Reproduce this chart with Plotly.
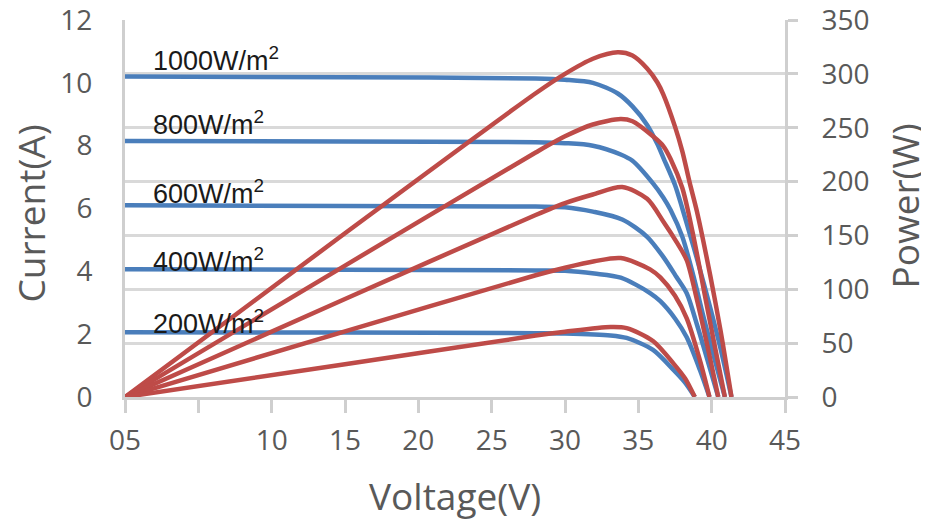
import plotly.graph_objects as go

# ---- data ----
irradiance_labels = ["1000W/m<sup>2</sup>", "800W/m<sup>2</sup>", "600W/m<sup>2</sup>",
                     "400W/m<sup>2</sup>", "200W/m<sup>2</sup>"]

V1000 = [0, 15, 28, 30, 31.9, 33.6, 34.6, 35.6, 36.3, 36.7, 37.5, 38.0, 38.5, 39.0, 39.9, 40.6, 41.35]
I1000 = [10.2, 10.18, 10.14, 10.1, 10.0, 9.66, 9.25, 8.66, 8.05, 7.62, 6.75, 6.0, 5.2, 4.4, 2.85, 1.55, 0]
P1000 = [0, 152, 282, 300, 314, 320, 317, 305, 292, 281, 251, 228, 199, 172, 113, 62, 0]

V800 = [0, 15, 28, 30, 31.9, 33.8, 34.6, 36.0, 36.7, 37.2, 38.0, 38.7, 39.5, 40.2, 40.9]
I800 = [8.15, 8.13, 8.11, 8.08, 8.0, 7.72, 7.52, 6.8, 6.35, 5.95, 5.1, 3.95, 2.45, 1.2, 0]
P800 = [0, 122, 227, 242, 253, 258, 256, 242, 233, 221, 194, 153, 97, 48, 0]

V600 = [0, 15, 28, 30, 31.9, 33.9, 35.6, 36.7, 37.6, 38.3, 39.0, 39.7, 40.45]
I600 = [6.1, 6.08, 6.06, 6.04, 5.9, 5.65, 5.1, 4.46, 3.82, 3.3, 2.3, 1.2, 0]
P600 = [0, 91, 169, 180, 188, 195, 184, 163, 144, 127, 90, 48, 0]

V400 = [0, 15, 28, 30, 32, 33.8, 35.8, 36.5, 37.5, 38.3, 39.2, 39.85]
I400 = [4.07, 4.05, 4.03, 4.02, 3.93, 3.8, 3.31, 3.05, 2.5, 1.9, 0.86, 0]
P400 = [0, 61, 113, 120, 126, 129, 118.5, 111, 94, 73, 34, 0]

V200 = [0, 15, 28, 30, 33.1, 34.2, 36.0, 37.4, 38.2, 38.85]
I200 = [2.06, 2.05, 2.03, 2.02, 1.96, 1.88, 1.5, 0.86, 0.45, 0]
P200 = [0, 30.5, 57, 60.5, 65, 64, 52, 31, 17, 0]

x_tickvals = [0, 5, 10, 15, 20, 25, 30, 35, 40, 45]
x_ticktext = ["05", "", "10", "15", "20", "25", "30", "35", "40", "45"]
y1_tickvals = [0, 2, 4, 6, 8, 10, 12]
y2_tickvals = [0, 50, 100, 150, 200, 250, 300, 350]

x_title = "Voltage(V)"
y1_title = "Current(A)"
y2_title = "Power(W)"

voltages = [V1000, V800, V600, V400, V200]
currents = [I1000, I800, I600, I400, I200]
powers = [P1000, P800, P600, P400, P200]

# ---- styles ----
BLUE = "#4A7EBB"
RED = "#BE4B48"
AXIS = "#CFCFCF"
GRID = "#D9D9D9"
TXT = "#595959"
TICKFONT = dict(family="Open Sans", size=28, color=TXT)
TITLEFONT = dict(family="Open Sans", size=37, color=TXT)

fig = go.Figure()

for V, I in zip(voltages, currents):
    fig.add_trace(go.Scatter(x=V, y=I, mode="lines", yaxis="y",
                             line=dict(color=BLUE, width=4.5, shape="spline", smoothing=0.8),
                             showlegend=False, hoverinfo="skip"))
for V, P in zip(voltages, powers):
    fig.add_trace(go.Scatter(x=V, y=P, mode="lines", yaxis="y2",
                             line=dict(color=RED, width=4.5, shape="spline", smoothing=0.8),
                             showlegend=False, hoverinfo="skip"))

label_y = [10.76, 8.73, 6.53, 4.36, 2.39]
for txt, yy in zip(irradiance_labels, label_y):
    fig.add_annotation(x=1.8, y=yy, xref="x", yref="y", text=txt, showarrow=False,
                       xanchor="left", yanchor="middle",
                       font=dict(family="Liberation Sans", size=27, color="#1a1a1a"))

# axis titles (placed as annotations so they are not pushed inside the page edge)
fig.add_annotation(x=0.5, y=0, xref="paper", yref="paper", text=x_title, showarrow=False,
                   xanchor="center", yanchor="middle", yshift=-98, font=TITLEFONT)
fig.add_annotation(x=0, y=0.5, xref="paper", yref="paper", text=y1_title, showarrow=False,
                   xanchor="center", yanchor="middle", xshift=-95, yshift=-5,
                   textangle=-90, font=TITLEFONT)
fig.add_annotation(x=1, y=0.5, xref="paper", yref="paper", text=y2_title, showarrow=False,
                   xanchor="center", yanchor="middle", xshift=119, yshift=2,
                   textangle=-90, font=TITLEFONT)

# the page adds an 8px body margin, so the figure is sized to fit inside the window
fig.update_layout(
    template="none",
    width=921, height=512,
    margin=dict(l=117, r=144, t=12, b=123, autoexpand=False),
    paper_bgcolor="white", plot_bgcolor="white",
    xaxis=dict(range=[0, 45], tickmode="array", tickvals=x_tickvals, ticktext=x_ticktext,
               showgrid=False, zeroline=False, automargin=False,
               showline=True, linecolor=AXIS, linewidth=3,
               ticks="outside", ticklen=13, tickwidth=3, tickcolor=AXIS,
               tickfont=TICKFONT, ticklabelstandoff=3),
    yaxis=dict(range=[0, 12], tickmode="array", tickvals=y1_tickvals,
               showgrid=False, zeroline=False, automargin=False,
               showline=True, linecolor=AXIS, linewidth=3,
               ticks="", tickfont=TICKFONT, ticklabelstandoff=24,
               ticklabeloverflow="allow"),
    yaxis2=dict(range=[0, 350], tickmode="array", tickvals=y2_tickvals,
                overlaying="y", side="right", automargin=False,
                showgrid=True, gridcolor=GRID, gridwidth=3, zeroline=False,
                showline=True, linecolor=AXIS, linewidth=3,
                ticks="outside", ticklen=10, tickwidth=3, tickcolor=AXIS,
                tickfont=TICKFONT, ticklabelstandoff=18, ticklabeloverflow="allow"),
)

fig.write_html("out.html")
